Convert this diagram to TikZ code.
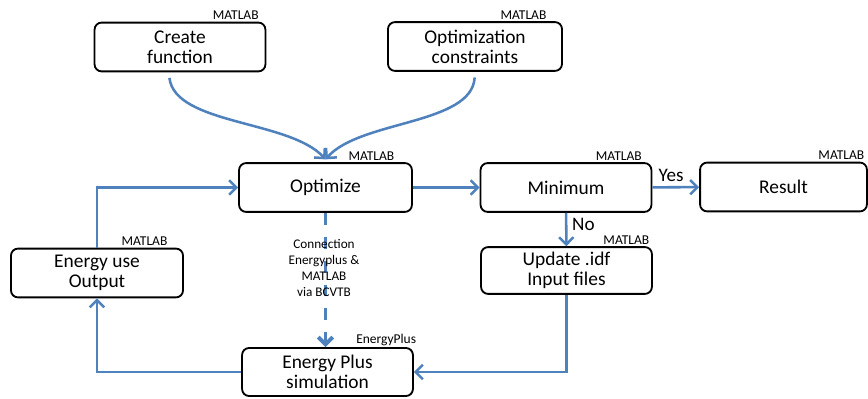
\documentclass[tikz,border=0pt]{standalone}
\usepackage{fontspec}
\setmainfont{Carlito}
\usetikzlibrary{arrows.meta,positioning,calc}
\definecolor{LoopBlue}{HTML}{4F81BD}
\tikzset{
  flow/.style={-{Straight Barb[length=1.8mm,width=3.6mm]}, line width=1.8pt, draw=LoopBlue},
  link/.style={flow, line width=2.8pt, dash pattern=on 8.5pt off 8.5pt},
  stage/.style={rounded corners=5pt, draw=black, fill=white, line width=1.3pt,
                minimum width=4.27cm, minimum height=1.22cm, align=center, inner sep=2pt,
                font=\fontsize{13.8}{14.4}\selectfont},
  tag/.style={anchor=south east, inner sep=1pt, font=\fontsize{9.6}{11}\selectfont},
  answer/.style={font=\fontsize{13.6}{15}\selectfont},
}
\begin{document}
\begin{tikzpicture}[x=0.025cm,y=-0.025cm]
    \useasboundingbox (0,0) rectangle (868,399);
    \node[stage] (create) at (180,47) {Create\\function};
    \node[stage,minimum width=4.35cm] (constr) at (475,46.5) {Optimization\\constraints};
    \node[stage,minimum width=4.32cm] (opt) at (325.5,187.5) {Optimize};
    \node[stage] (mini) at (566,187.5) {Minimum};
    \node[stage,minimum width=4.17cm] (result) at (783.5,187) {Result};
    \node[stage,minimum width=4.3cm] (euse) at (97,273) {Energy use\\Output};
    \node[stage,minimum height=1.17cm] (update) at (566.5,270.5) {Update .idf\\Input files};
    \node[stage,minimum height=1.2cm] (eplus) at (327.5,372) {Energy Plus\\simulation};
    % tool tags
    \node[tag] at ([xshift=-4.3pt]create.north east) {MATLAB};
    \node[tag] at ([xshift=-10.6pt]constr.north east) {MATLAB};
    \node[tag] at ([xshift=-12pt]opt.north east) {MATLAB};
    \node[tag] at ([xshift=-6.4pt]mini.north east) {MATLAB};
    \node[tag] at ([xshift=-1.4pt]result.north east) {MATLAB};
    \node[tag] at ([xshift=-1.4pt]update.north east) {MATLAB};
    \node[tag] at ([xshift=-10.6pt]euse.north east) {MATLAB};
    \node[tag] at ([xshift=2.8pt]eplus.north east) {EnergyPlus};
    % connectors
    \draw[flow,shorten <=4pt] ([xshift=-8pt]create.south) .. controls (175,125) and (290,120) .. ([yshift=2pt]opt.north);
    \draw[flow,shorten <=4pt] (constr.south) .. controls (472,125) and (360,120) .. ([yshift=2pt]opt.north);
    \draw[flow] (opt) -- (mini);
    \draw[flow] (mini) -- node[answer,above,pos=0.4] {Yes} (result);
    \draw[flow] (mini) -- node[answer,right,pos=0.35] {No} (update);
    \draw[flow] (update.south) |- (eplus.east);
    \draw[flow] (eplus.west) -| (euse.south);
    \draw[flow] (euse.north) |- (opt.west);
    \draw[link] (opt.south) -- (opt.south |- eplus.north);
    \node[align=center,font=\fontsize{9.4}{11.5}\selectfont] (via) at (324,268)
      {Connection\\Energyplus \&\\MATLAB\\via BCVTB};
\end{tikzpicture}
\end{document}
